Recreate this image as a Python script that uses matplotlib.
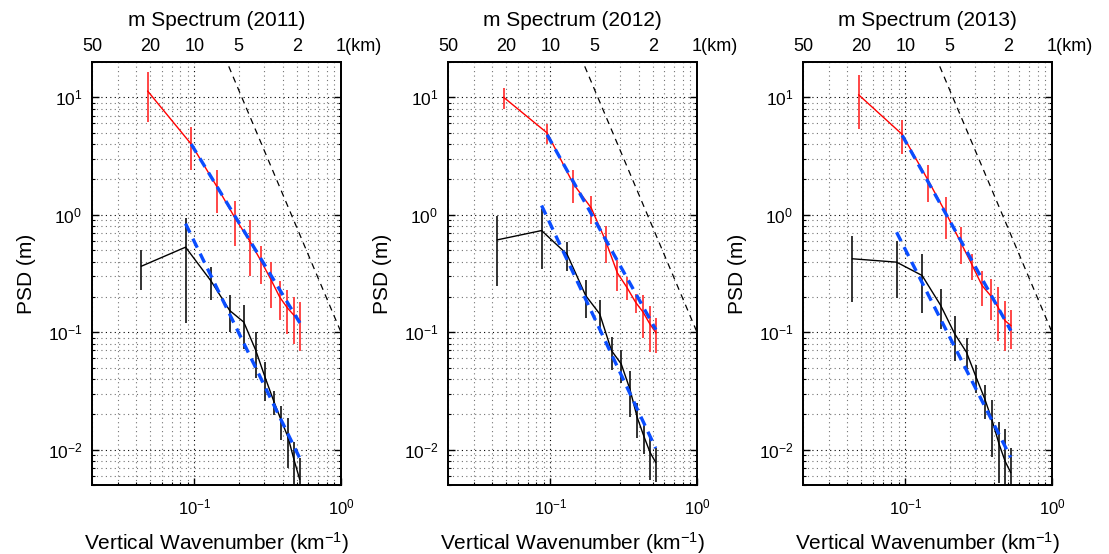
import matplotlib
matplotlib.use("Agg")
import matplotlib.pyplot as plt
from matplotlib.ticker import LogLocator, NullFormatter, FixedLocator, FixedFormatter

plt.rcParams['font.family'] = ['Liberation Sans', 'DejaVu Sans']
plt.rcParams['mathtext.fontset'] = 'custom'
plt.rcParams['mathtext.rm'] = 'Liberation Sans'
plt.rcParams['mathtext.it'] = 'Liberation Sans:italic'
plt.rcParams['mathtext.bf'] = 'Liberation Sans:bold'

# ------ data ------ #
years = ['2011', '2012', '2013']

red_wn = [0.048, 0.095, 0.143, 0.190, 0.238, 0.286, 0.333, 0.381, 0.429, 0.476, 0.524]
black_wn = [0.0435, 0.087, 0.130, 0.174, 0.217, 0.261, 0.304, 0.348, 0.391, 0.435, 0.478, 0.522]

red_psd = [
    [11.3, 4.0, 1.72, 0.93, 0.60, 0.40, 0.28, 0.20, 0.162, 0.14, 0.125],
    [10.0, 4.97, 1.84, 1.14, 0.60, 0.32, 0.24, 0.18, 0.148, 0.118, 0.099],
    [10.5, 4.84, 1.96, 1.02, 0.584, 0.37, 0.25, 0.205, 0.163, 0.126, 0.114],
]
red_err = [
    [5.1, 1.6, 0.68, 0.39, 0.30, 0.145, 0.12, 0.073, 0.066, 0.06, 0.056],
    [2.0, 1.0, 0.57, 0.30, 0.21, 0.095, 0.053, 0.033, 0.059, 0.05, 0.033],
    [5.1, 1.57, 0.68, 0.40, 0.20, 0.094, 0.083, 0.077, 0.079, 0.057, 0.042],
]
black_psd = [
    [0.365, 0.53, 0.272, 0.153, 0.122, 0.071, 0.041, 0.0258, 0.0177, 0.0128, 0.0082, 0.0056],
    [0.612, 0.734, 0.46, 0.205, 0.143, 0.0697, 0.0537, 0.0329, 0.0188, 0.0129, 0.0095, 0.0078],
    [0.422, 0.395, 0.304, 0.169, 0.0967, 0.0675, 0.0412, 0.027, 0.0176, 0.0112, 0.008, 0.0064],
]
black_err = [
    [0.134, 0.41, 0.084, 0.053, 0.05, 0.03, 0.015, 0.006, 0.0057, 0.0058, 0.0034, 0.0029],
    [0.365, 0.39, 0.13, 0.072, 0.044, 0.022, 0.017, 0.014, 0.0063, 0.0037, 0.004, 0.0025],
    [0.242, 0.2, 0.158, 0.0625, 0.04, 0.021, 0.011, 0.0087, 0.009, 0.006, 0.007, 0.004],
]

# power-law fits (end points)
red_fit_wn = [0.095, 0.524]
black_fit_wn = [0.087, 0.522]
red_fit_psd = [[4.0, 0.12], [4.8, 0.105], [4.75, 0.103]]
black_fit_psd = [[0.84, 0.0085], [1.2, 0.0103], [0.71, 0.0086]]

# saturation reference line
ref_wn = [0.16, 1.0]
ref_psd = [22.5, 0.1]

top_ticks = [0.02, 0.05, 0.1, 0.2, 0.5, 1.0]
top_labels = ['50', '20', '10', '5', '2', '']

# ------ figure ------ #
W, H = 1109, 554
fig = plt.figure(figsize=(W / 100, H / 100), dpi=100)
lefts = [92, 448, 803]
ax_w, ax_top, ax_bot = 249, 62, 485

for i, yr in enumerate(years):
    ax = fig.add_axes([lefts[i] / W, 1 - ax_bot / H, ax_w / W, (ax_bot - ax_top) / H])
    ax.set_xscale('log')
    ax.set_yscale('log')
    ax.set_xlim(0.02, 1.0)
    ax.set_ylim(0.005, 20)

    ax.grid(True, which='major', ls=(0, (1, 3)), color='k', lw=0.8)
    ax.grid(True, which='minor', ls=(0, (1, 3)), color='0.45', lw=0.8)
    ax.set_axisbelow(True)

    ax.plot(ref_wn, ref_psd, color='k', ls=(0, (5, 4)), lw=0.9)

    ax.errorbar(red_wn, red_psd[i], yerr=red_err[i], color='red', lw=1.0,
                ecolor='#ff3838', elinewidth=1.3, capsize=0)
    ax.errorbar(black_wn, black_psd[i], yerr=black_err[i], color='k', lw=1.0,
                ecolor='#222222', elinewidth=1.3, capsize=0)

    ax.plot(red_fit_wn, red_fit_psd[i], color='#0a4dff', ls=(0, (3, 2)), lw=2.4, zorder=5)
    ax.plot(black_fit_wn, black_fit_psd[i], color='#0a4dff', ls=(0, (3, 2)), lw=2.4, zorder=5)

    ax.xaxis.set_minor_formatter(NullFormatter())
    ax.yaxis.set_minor_formatter(NullFormatter())
    ax.yaxis.set_major_locator(LogLocator(base=10, numticks=10))
    ax.tick_params(which='both', direction='in', right=True, top=False)
    ax.tick_params(axis='y', labelsize=12.5, pad=7)
    ax.tick_params(axis='x', labelsize=12, pad=9)
    ax.tick_params(which='major', length=5, width=1)
    ax.tick_params(which='minor', length=2.5, width=0.8)
    for s in ax.spines.values():
        s.set_linewidth(1.3)

    ax.set_xlabel('Vertical Wavenumber (km$^{-1}$)', fontsize=15, labelpad=9)
    ax.set_ylabel('PSD (m)', fontsize=15, labelpad=8)

    # top wavelength axis
    tw = ax.twiny()
    tw.set_xscale('log')
    tw.set_xlim(ax.get_xlim())
    tw.xaxis.set_major_locator(FixedLocator(top_ticks))
    tw.xaxis.set_major_formatter(FixedFormatter(top_labels))
    tw.xaxis.set_minor_locator(FixedLocator([]))
    tw.tick_params(which='major', direction='in', length=0, labelsize=13, pad=5)
    for s in tw.spines.values():
        s.set_linewidth(1.3)
    tw.annotate('1(km)', xy=(1.0, 1.0), xycoords='axes fraction', xytext=(-3.6, 5),
                textcoords='offset points', ha='left', va='bottom', fontsize=13)

    ax.set_title('m Spectrum (%s)' % yr, fontsize=15, y=1.085, pad=0)

fig.savefig('out.png', dpi=100)
